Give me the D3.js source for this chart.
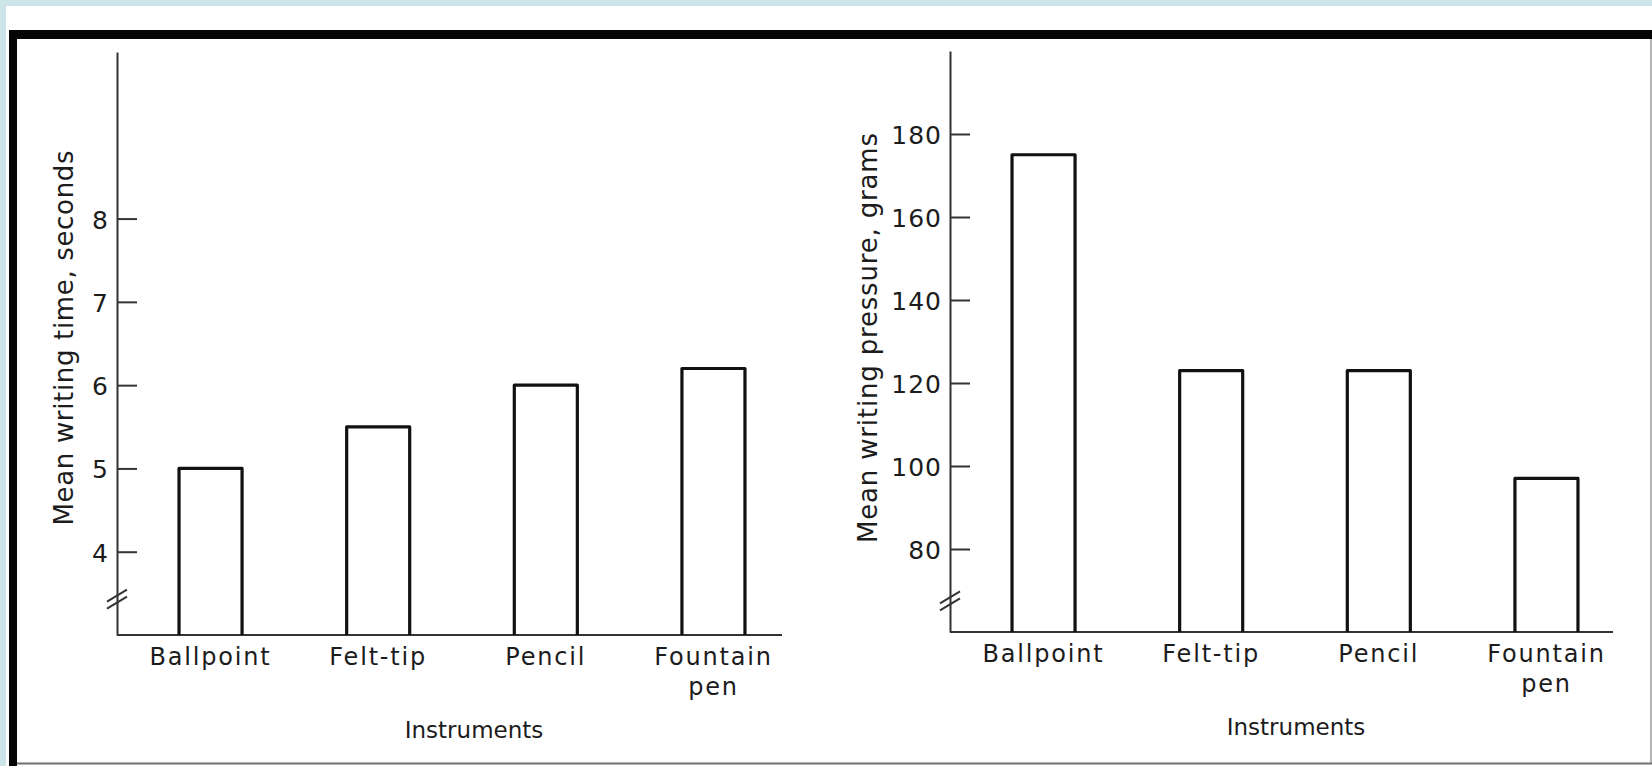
<!DOCTYPE html>
<html>
<head>
<meta charset="utf-8">
<script src="https://cdn.jsdelivr.net/npm/d3@7"></script>
<style>
  html, body { margin: 0; padding: 0; background: #cde5e9; }
  svg { display: block; }
  text { font-family: "DejaVu Sans", sans-serif; fill: #1c1c1c; }
</style>
</head>
<body>
<svg id="chart" width="1652" height="766"></svg>
<script>
// ---- data ----
const instruments = ["Ballpoint", "Felt-tip", "Pencil", "Fountain pen"];
const writingTime = [5.0, 5.5, 6.0, 6.2];          // seconds
const writingPressure = [175, 123, 123, 97];        // grams
const timeTicks = [4, 5, 6, 7, 8];
const pressureTicks = [80, 100, 120, 140, 160, 180];
const timeDomain = [3, 10];
const pressureDomain = [60, 200];
const timeBreak = 3.43;
const pressureBreak = 67.5;
const xTitle = "Instruments";
const timeTitle = "Mean writing time, seconds";
const pressureTitle = "Mean writing pressure, grams";

const svg = d3.select("#chart");

// frame
svg.append("rect").attr("x", 6).attr("y", 6).attr("width", 1646).attr("height", 760).attr("fill", "#ffffff");
svg.append("rect").attr("x", 9).attr("y", 30).attr("width", 1643).attr("height", 9).attr("fill", "#050505");
svg.append("rect").attr("x", 9).attr("y", 30).attr("width", 8).attr("height", 736).attr("fill", "#050505");
svg.append("line").attr("x1", 1651).attr("x2", 1651).attr("y1", 39).attr("y2", 764).attr("stroke", "#9a9a9a").attr("stroke-width", 1.5);
svg.append("line").attr("x1", 17).attr("x2", 1652).attr("y1", 763.5).attr("y2", 763.5).attr("stroke", "#6f6f6f").attr("stroke-width", 2);

function panel(cfg) {
  const g = svg.append("g");
  const y = d3.scaleLinear().domain(cfg.domain).range(cfg.yRange);
  const x = d3.scaleBand().domain(instruments)
    .range([cfg.axisX, cfg.axisX + 690])
    .paddingInner(0.624).paddingOuter(0.37);

  // y axis with inward ticks
  const axis = d3.axisLeft(y).tickValues(cfg.ticks).tickFormat(d3.format("d"))
    .tickSizeInner(-20).tickSizeOuter(0).tickPadding(8);
  const ag = g.append("g").attr("transform", `translate(${cfg.axisX},0)`).call(axis);
  ag.select(".domain").attr("stroke", "#333").attr("stroke-width", 2);
  ag.selectAll(".tick line").attr("stroke", "#333").attr("stroke-width", 2);
  ag.selectAll(".tick text").attr("font-size", 25).attr("font-family", "DejaVu Sans")
    .attr("fill", "#222").attr("dy", "0.38em").attr("letter-spacing", 1);

  const base = y(cfg.domain[0]);
  // x axis line
  g.append("line").attr("x1", cfg.axisX).attr("x2", cfg.xEnd)
    .attr("y1", base).attr("y2", base).attr("stroke", "#333").attr("stroke-width", 2);

  // axis break
  const by = y(cfg.brk);
  [-3.5, 3.5].forEach(off => {
    g.append("line")
      .attr("x1", cfg.axisX - 10).attr("y1", by + off + 6)
      .attr("x2", cfg.axisX + 10).attr("y2", by + off - 6)
      .attr("stroke", "#333").attr("stroke-width", 2);
  });

  // bars (open rectangles sitting on the axis)
  g.selectAll("path.bar").data(cfg.values).join("path")
    .attr("class", "bar")
    .attr("d", (d, i) => {
      const x0 = x(instruments[i]), x1 = x0 + x.bandwidth(), yt = y(d);
      return `M${x0},${base}V${yt}H${x1}V${base}`;
    })
    .attr("fill", "none").attr("stroke", "#111").attr("stroke-width", 3.2)
    .attr("stroke-linejoin", "round");

  // category labels
  instruments.forEach((name, i) => {
    const cx = x(name) + x.bandwidth() / 2;
    const lines = name.split(" ");
    lines.forEach((ln, j) => {
      g.append("text").attr("x", cx).attr("y", base + 30 + j * 30)
        .attr("text-anchor", "middle").attr("font-size", 24)
        .attr("letter-spacing", 1.8).text(ln);
    });
  });

  // x title
  g.append("text").attr("x", cfg.xTitleX).attr("y", base + 103)
    .attr("text-anchor", "middle").attr("font-size", 23)
    .text(xTitle);

  // y title
  g.append("text")
    .attr("transform", `translate(${cfg.yTitleX},338) rotate(-90)`)
    .attr("text-anchor", "middle").attr("font-size", 26)
    .attr("textLength", cfg.yTitleLen).attr("lengthAdjust", "spacing")
    .text(cfg.yTitle);
}

panel({
  domain: timeDomain, yRange: [635, 52], ticks: timeTicks, values: writingTime,
  axisX: 117, xEnd: 782, brk: timeBreak, xTitleX: 474,
  yTitleX: 73, yTitleLen: 375, yTitle: timeTitle
});
panel({
  domain: pressureDomain, yRange: [632, 51], ticks: pressureTicks, values: writingPressure,
  axisX: 950, xEnd: 1613, brk: pressureBreak, xTitleX: 1296,
  yTitleX: 877, yTitleLen: 410, yTitle: pressureTitle
});
</script>
</body>
</html>
